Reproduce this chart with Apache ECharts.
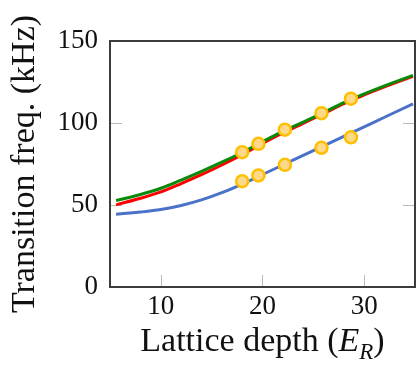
<!DOCTYPE html>
<html>
<head>
<meta charset="utf-8">
<script src="https://cdn.jsdelivr.net/npm/echarts@6/dist/echarts.min.js"></script>
<style>
html,body{margin:0;padding:0;background:#fff;}
#chart{width:417px;height:382px;}
</style>
</head>
<body>
<div id="chart"></div>
<script>
// Lattice depth samples (E_R) for the theory curves
const depth = [5.6, 8, 10, 12, 14, 16, 18, 20, 22, 24, 26, 28, 30, 32, 34.8];
const blueCurve  = [44.4, 45.7, 47.2, 49.7, 53.1, 57.5, 62.8, 68.6, 74.4, 80.2, 86.0, 91.9, 97.7, 103.5, 111.7];
const redCurve   = [50.1, 54.1, 58.0, 63.1, 68.5, 74.4, 80.7, 87.5, 93.9, 99.8, 105.7, 111.8, 117.1, 122.0, 128.4];
const greenCurve = [52.7, 56.4, 60.2, 65.2, 70.5, 76.1, 82.0, 88.6, 94.9, 100.6, 106.4, 112.4, 117.7, 122.6, 129.0];

// Measured points
const measDepth = [18, 19.6, 22.2, 25.8, 28.7];
const measUpper = [82.2, 87.3, 95.9, 106.0, 114.8];
const measLower = [64.5, 68.0, 74.5, 84.9, 91.3];

// Tick labels
const xTicks = [10, 20, 30];
const yTicks = [0, 50, 100, 150];

const pair = (xs, ys) => xs.map((x, i) => [x, ys[i]]);

const FONT = 'Liberation Serif';
const FRAME_COLOR = '#3c3c3c';
const frame = () => ({show: true, onZero: false, lineStyle: {color: FRAME_COLOR, width: 2}});
const tick = (vals) => ({show: true, inside: true, length: 12, customValues: vals, lineStyle: {color: '#bbb', width: 1}});
const chart = echarts.init(document.getElementById('chart'), null, {renderer: 'canvas'});

const lineSeries = (data, color) => ({
  type: 'line',
  data: data,
  smooth: 0.35,
  showSymbol: false,
  symbol: 'none',
  lineStyle: {color: color, width: 3},
  z: 2,
  silent: true,
  animation: false
});
const markSeries = (data) => ({
  type: 'scatter',
  data: data,
  symbol: 'circle',
  symbolSize: 12,
  itemStyle: {color: '#ffd98a', borderColor: '#ffbf00', borderWidth: 2.5, opacity: 1},
  z: 5,
  animation: false
});

const X_MIN = 5, X_MAX = 35, Y_MIN = 0, Y_MAX = 150;

chart.setOption({
  animation: false,
  grid: {left: 109, right: 2, top: 41, bottom: 95},
  xAxis: [{
    type: 'value', min: X_MIN, max: X_MAX,
    name: '{n|Lattice depth (}{i|E}{s|R}{n|)}',
    nameLocation: 'middle', nameGap: 16,
    nameTextStyle: {
      fontFamily: FONT, fontSize: 34, color: '#111',
      rich: {
        n: {fontFamily: FONT, fontSize: 34, color: '#111', lineHeight: 40, verticalAlign: 'top'},
        i: {fontFamily: FONT, fontSize: 34, color: '#111', fontStyle: 'italic', lineHeight: 40, verticalAlign: 'top'},
        s: {fontFamily: FONT, fontSize: 23, color: '#111', fontStyle: 'italic', lineHeight: 40, verticalAlign: 'bottom'}
      }
    },
    axisLine: frame(),
    splitLine: {show: false},
    axisTick: tick(xTicks),
    axisLabel: {fontFamily: FONT, fontSize: 27, color: '#111', margin: 6, customValues: xTicks}
  }],
  yAxis: [{
    type: 'value', min: Y_MIN, max: Y_MAX, interval: 50,
    name: 'Transition freq. (kHz)',
    nameLocation: 'middle', nameGap: 68,
    nameTextStyle: {fontFamily: FONT, fontSize: 34, color: '#111'},
    axisLine: frame(),
    splitLine: {show: false},
    axisTick: tick(yTicks),
    axisLabel: {fontFamily: FONT, fontSize: 27, color: '#111', margin: 12, customValues: yTicks}
  }, {
    type: 'value', min: Y_MIN, max: Y_MAX, interval: 50, position: 'right',
    axisLine: frame(),
    splitLine: {show: false},
    axisTick: tick(yTicks),
    axisLabel: {show: false}
  }],
  series: [
    lineSeries(pair(depth, blueCurve), '#4a72c8'),
    lineSeries(pair(depth, redCurve), '#ff0000'),
    lineSeries(pair(depth, greenCurve), '#0a8a0a'),
    markSeries(pair(measDepth, measUpper)),
    markSeries(pair(measDepth, measLower))
  ]
});

// Plot frame derived from the axes' own scale
const tl = chart.convertToPixel({xAxisIndex: 0, yAxisIndex: 0}, [X_MIN, Y_MAX]);
const br = chart.convertToPixel({xAxisIndex: 0, yAxisIndex: 0}, [X_MAX, Y_MIN]);
chart.setOption({
  graphic: [{
    type: 'rect', z: 100, silent: true,
    shape: {x: tl[0], y: tl[1], width: br[0] - tl[0], height: br[1] - tl[1]},
    style: {fill: null, stroke: FRAME_COLOR, lineWidth: 2}
  }]
});
</script>
</body>
</html>
